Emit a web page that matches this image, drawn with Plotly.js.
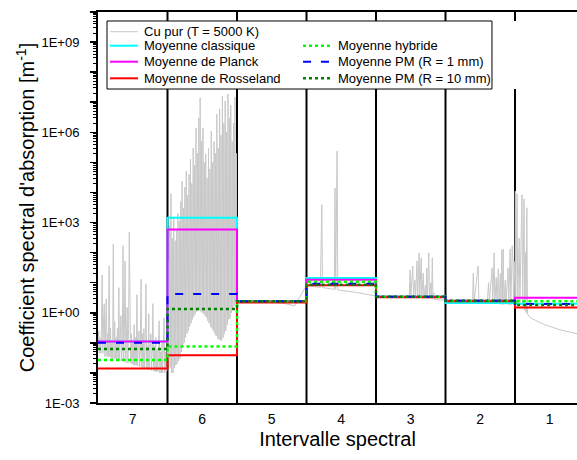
<!DOCTYPE html>
<html>
<head>
<meta charset="utf-8">
<script src="https://cdn.plot.ly/plotly-3.0.1.min.js"></script>
<style>html,body{margin:0;padding:0;background:#fff;overflow:hidden}#chart{width:577px;height:460px}</style>
</head>
<body>
<div id="chart"></div>
<script>
// Spectral intervals (drawn left to right: 7 ... 1), boundaries in interval units
const intervalLabels = ['7', '6', '5', '4', '3', '2', '1'];
const intervalCenters = [0.5, 1.5, 2.5, 3.5, 4.5, 5.5, 6.5];
const boundaries = [1, 2, 3, 4, 5, 6];
const stepEdges = [0, 1, 2, 3, 4, 5, 6, 7];

// Mean absorption coefficients per interval (7 -> 1), m^-1
const moyClassique = [0.11, 1440, 2.4, 14.2, 3.4, 2.1, 2.0];
const moyPlanck    = [0.11, 590, 2.4, 12.5, 3.4, 2.5, 3.15];
const moyRosseland = [0.014, 0.039, 2.2, 8.3, 3.3, 2.4, 1.5];
const moyHybride   = [0.027, 0.076, 2.4, 10.7, 3.4, 2.5, 2.4];
const moyPM1       = [0.10, 4.2, 2.4, 9.2, 3.4, 2.5, 1.95];
const moyPM10      = [0.062, 1.33, 2.4, 8.6, 3.4, 2.5, 1.8];

// Pure copper spectrum (T = 5000 K), position in interval units, value in m^-1
const cuX = [
 0.00,0.01,0.02,0.03,0.04,0.05,0.06,0.07,0.08,0.09,0.10,0.11,0.12,0.13,0.14,0.15,0.16,0.17,0.18,0.19,
 0.20,0.21,0.22,0.23,0.24,0.25,0.26,0.27,0.28,0.29,0.30,0.31,0.32,0.33,0.34,0.35,0.36,0.37,0.38,0.39,
 0.40,0.41,0.42,0.43,0.44,0.45,0.46,0.47,0.48,0.49,0.50,0.51,0.52,0.53,0.54,0.55,0.56,0.57,0.58,0.59,
 0.60,0.61,0.62,0.63,0.64,0.65,0.66,0.67,0.68,0.69,0.70,0.71,0.72,0.73,0.74,0.75,0.76,0.77,0.78,0.79,
 0.80,0.81,0.82,0.83,0.84,0.85,0.86,0.87,0.88,0.89,0.90,0.91,0.92,0.93,0.94,0.95,0.96,0.97,0.98,0.99,
 1.00,1.01,1.02,1.03,1.04,1.05,1.06,1.07,1.08,1.09,1.10,1.11,1.12,1.13,1.14,1.15,1.16,1.17,1.18,1.19,
 1.20,1.21,1.22,1.23,1.24,1.25,1.26,1.27,1.28,1.29,1.30,1.31,1.32,1.33,1.34,1.35,1.36,1.37,1.38,1.39,
 1.40,1.41,1.42,1.43,1.44,1.45,1.46,1.47,1.48,1.49,1.50,1.51,1.52,1.53,1.54,1.55,1.56,1.57,1.58,1.59,
 1.60,1.61,1.62,1.63,1.64,1.65,1.66,1.67,1.68,1.69,1.70,1.71,1.72,1.73,1.74,1.75,1.76,1.77,1.78,1.79,
 1.80,1.81,1.82,1.83,1.84,1.85,1.86,1.87,1.88,1.89,1.90,1.91,1.92,1.93,1.94,1.95,1.96,1.97,1.98,1.99,
 2.00,2.20,2.50,2.70,2.83,2.98,
 3.00,3.20,3.22,3.23,3.40,3.41,3.42,3.44,3.45,3.70,3.99,
 4.00,4.30,4.48,4.49,4.50,4.53,4.54,4.56,4.57,4.59,4.60,4.62,4.63,4.65,4.66,4.68,4.69,4.71,4.72,4.73,
 4.74,4.76,4.77,4.79,4.80,4.81,4.82,4.83,4.84,
 5.00,5.30,5.39,5.40,5.41,5.47,5.48,5.60,5.62,5.63,5.67,5.68,5.70,5.71,5.73,5.74,5.76,5.77,5.79,5.80,
 5.81,5.82,5.83,5.84,5.86,5.87,5.90,5.91,5.93,5.94,5.96,5.97,5.98,5.99,
 6.00,6.005,6.01,6.03,6.04,6.06,6.07,6.10,6.11,6.13,6.14,6.15,6.16,6.17,6.18,6.22,6.43,6.65,6.90,7.00
];
const cuY = [
 0.06,0.25,0.045,0.15,0.045,0.3,18,0.045,0.5,2.0,0.035,0.4,2.9,0.035,0.2,0.035,36,0.035,0.3,0.03,
 0.12,0.03,195,0.03,0.5,0.03,0.15,0.028,0.3,0.027,6.8,0.026,0.2,0.8,0.025,0.12,170,0.025,0.3,53,
 0.022,0.15,1.5,0.021,0.3,490,15,0.021,0.2,0.02,0.1,0.019,0.4,0.018,0.15,0.018,4,0.017,0.12,0.25,
 0.016,0.1,13,0.015,0.2,0.015,0.3,0.014,0.1,9.2,0.014,0.08,0.013,0.93,0.013,0.1,0.2,0.012,0.06,2,
 0.012,0.08,0.011,0.15,0.011,0.06,0.011,0.1,0.54,0.010,0.05,0.010,0.1,0.010,0.06,0.68,0.010,0.05,0.011,0.012,
 0.02,50,0.026,800,0.015,9000,0.010,300,0.010,1500,0.015,250,0.018,600,0.02,2000,0.025,1100,0.03,5000,
 0.05,24000,0.08,3000,0.1,15000,0.15,52000,0.2,8000,0.25,40000,0.35,130000,0.45,20000,0.6,300000,0.75,80000,
 0.9,1.4e6,1.1,2e5,1.2,3e6,1.2,1.4e7,1.1,5e5,1.0,1.4e6,0.93,1e5,0.8,1.9e5,0.7,3e4,0.54,3e5,
 0.45,6e4,0.35,1.1e6,0.3,1e5,0.25,5e5,0.2,2e5,0.17,4e6,0.14,3e5,0.13,6e6,0.12,8e5,0.12,1.6e7,
 0.15,2e6,0.2,1.1e7,0.25,1e6,0.4,1.9e7,0.6,3e6,0.63,8e6,1.0,5e5,1.3,2e6,1.7,1.5e7,2.0,2e5,
 2.5,2.4,2.3,2.0,1.7,6.8,
 7.9,7.0,3900,6.9,6.0,14000,5.9,2.4e5,5.8,4.8,3.7,
 3.6,3.4,3.3,27,3.2,36,3.2,12,3.2,53,3.1,98,3.1,67,3.0,21,3.0,8,3.0,31,
 2.9,98,2.9,10,2.9,67,2.9,4.6,2.8,
 2.6,2.3,2.2,21,2.2,36,2.2,2.1,10,2.1,31,2.0,98,2.0,15,2.0,29,2.0,20,1.9,
 124,1.9,133,1.9,12,1.9,31,1.8,133,1.8,170,62,1.8,50,
 2.5,11000,2.3,9000,2.0,300,1.8,8300,1.6,6100,1.2,100,1.0,3100,0.9,0.68,0.40,0.27,0.20,0.19
];

function steps(v) { return v.concat([v[v.length - 1]]); }

const FONT = 'Arial, "Liberation Sans", sans-serif';

const series = [
  {x: cuX, y: cuY, name: 'Cu pur (T = 5000 K)', line: {color: '#c8c8c8', width: 1}},
  {x: stepEdges, y: steps(moyClassique), name: 'Moyenne classique', line: {color: '#00ffff', width: 2, shape: 'hv'}},
  {x: stepEdges, y: steps(moyPlanck), name: 'Moyenne de Planck', line: {color: '#ff00ff', width: 2, shape: 'hv'}},
  {x: stepEdges, y: steps(moyRosseland), name: 'Moyenne de Rosseland', line: {color: '#ff0000', width: 2, shape: 'hv'}},
  {x: stepEdges, y: steps(moyHybride), name: 'Moyenne hybride', line: {color: '#00ff00', width: 2.5, shape: 'hv', dash: 'dot'}},
  {x: stepEdges, y: steps(moyPM1), name: 'Moyenne PM (R = 1 mm)', line: {color: '#0000ff', width: 2, shape: 'hv', dash: '8px,10px'}},
  {x: stepEdges, y: steps(moyPM10), name: 'Moyenne PM (R = 10 mm)', line: {color: '#007f00', width: 2.5, shape: 'hv', dash: 'dot'}}
];
const traces = series.map(s => Object.assign({mode: 'lines', showlegend: false}, s));

// Legend box (paper coordinates)
const box = {x0: 0.0188, x1: 0.8225, y0: 0.803, y1: 0.977};
const legendRows = [0.9496, 0.9138, 0.8729, 0.8304];
// [trace index, column, row]
const legendSlots = [[0, 0, 0], [1, 0, 1], [2, 0, 2], [3, 0, 3], [4, 1, 1], [5, 1, 2], [6, 1, 3]];
const colSample = [[0.0251, 0.0835], [0.428, 0.4885]];
const colText = [0.093, 0.498];

const shapes = [];
boundaries.forEach(b => {
  shapes.push({type: 'line', xref: 'x', yref: 'paper', x0: b, x1: b, y0: 0, y1: box.y0,
    line: {color: '#000', width: 2}, layer: 'below'});
  shapes.push({type: 'line', xref: 'x', yref: 'paper', x0: b, x1: b, y0: box.y1, y1: 1,
    line: {color: '#000', width: 2}, layer: 'below'});
});
shapes.push({type: 'rect', xref: 'paper', yref: 'paper', x0: box.x0, x1: box.x1, y0: box.y0, y1: box.y1,
  fillcolor: 'white', opacity: 1, line: {color: '#000', width: 1}, layer: 'above'});

const annotations = [];
legendSlots.forEach(([ti, col, row]) => {
  const ln = series[ti].line;
  shapes.push({type: 'line', xref: 'paper', yref: 'paper',
    x0: colSample[col][0], x1: colSample[col][1], y0: legendRows[row], y1: legendRows[row],
    line: {color: ln.color, width: ln.width, dash: ln.dash || 'solid'}, layer: 'above'});
  annotations.push({xref: 'paper', yref: 'paper', x: colText[col], y: legendRows[row],
    xanchor: 'left', yanchor: 'middle', showarrow: false, text: series[ti].name,
    font: {size: 13, family: FONT, color: '#000'}, borderpad: 0});
});

const decades = [];
const decadeText = [];
for (let e = -3; e <= 10; e++) {
  decades.push(Math.pow(10, e));
  decadeText.push((e % 3 === 0 && e <= 9) ? ('1E' + (e < 0 ? '-' : '+') + String(Math.abs(e)).padStart(2, '0')) : '');
}

const layout = {
  width: 577, height: 460,
  margin: {l: 98, r: 0, t: 12, b: 57},
  paper_bgcolor: '#fff', plot_bgcolor: '#fff',
  font: {family: FONT, size: 13, color: '#000'},
  showlegend: false,
  xaxis: {
    range: [0, 6.892], showgrid: false, zeroline: false,
    showline: true, linecolor: '#000', linewidth: 2, mirror: true,
    tickvals: intervalCenters, ticktext: intervalLabels, ticks: '',
    tickfont: {size: 14}, ticklabelstandoff: 2,
    title: {text: 'Intervalle spectral', font: {size: 20}, standoff: 6}
  },
  yaxis: {
    type: 'log', range: [-3, 10], showgrid: false, zeroline: false,
    showline: true, linecolor: '#000', linewidth: 2, mirror: false,
    tickvals: decades, ticktext: decadeText, ticks: 'outside', ticklen: 6, tickwidth: 1.5, tickcolor: '#000',
    minor: {dtick: 'D1', ticks: 'outside', ticklen: 3, tickcolor: '#000', tickwidth: 1},
    tickfont: {size: 13}, ticklabelstandoff: 8,
    title: {text: "Coefficient spectral d'absorption [m<sup>-1</sup>]", font: {size: 20}, standoff: 1}
  },
  shapes: shapes,
  annotations: annotations
};

Plotly.newPlot('chart', traces, layout, {displayModeBar: false, staticPlot: true});
</script>
</body>
</html>
